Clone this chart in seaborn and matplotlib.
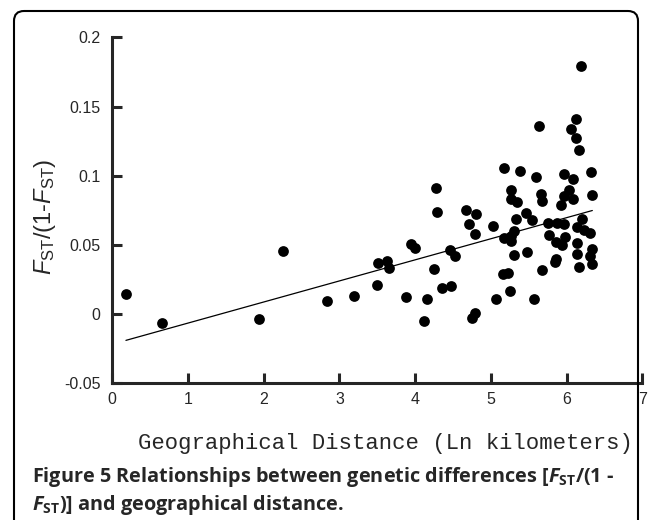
"""
Fst/(1-Fst) versus geographical distance, with linear trend
"""

import matplotlib
matplotlib.use('Agg')
import matplotlib.pyplot as plt
import seaborn as sns
import pandas as pd
from matplotlib.patches import FancyBboxPatch
from matplotlib.transforms import IdentityTransform
from matplotlib.ticker import FuncFormatter

# Pairwise population data
distance = [0.18, 0.66, 1.94, 2.25, 2.84, 3.19, 3.49, 3.51, 3.63, 3.65,
            3.88, 3.95, 4.00, 4.12, 4.15, 4.25, 4.28, 4.29, 4.36, 4.46,
            4.47, 4.52, 4.67, 4.71, 4.75, 4.79, 4.79, 4.81, 5.03, 5.07,
            5.16, 5.18, 5.18, 5.23, 5.25, 5.26, 5.26, 5.27, 5.27, 5.30,
            5.31, 5.33, 5.34, 5.39, 5.47, 5.48, 5.54, 5.57, 5.60, 5.64,
            5.66, 5.67, 5.67, 5.76, 5.77, 5.85, 5.86, 5.86, 5.87, 5.93,
            5.94, 5.97, 5.97, 5.97, 5.98, 6.03, 6.06, 6.08, 6.09, 6.12,
            6.12, 6.14, 6.14, 6.14, 6.16, 6.16, 6.19, 6.20, 6.23, 6.31,
            6.31, 6.32, 6.33, 6.34, 6.34]
fst_ratio = [0.0142, -0.0063, -0.0034, 0.0455, 0.0096, 0.0130, 0.0210, 0.0370, 0.0383, 0.0335,
             0.0125, 0.0510, 0.0477, -0.0046, 0.0108, 0.0323, 0.0913, 0.0742, 0.0190, 0.0462,
             0.0205, 0.0420, 0.0756, 0.0655, -0.0027, 0.0005, 0.0580, 0.0723, 0.0636, 0.0110,
             0.0290, 0.1057, 0.0547, 0.0300, 0.0168, 0.0830, 0.0564, 0.0900, 0.0527, 0.0600,
             0.0426, 0.0689, 0.0810, 0.1036, 0.0728, 0.0448, 0.0680, 0.0113, 0.0992, 0.1360,
             0.0865, 0.0816, 0.0318, 0.0660, 0.0570, 0.0378, 0.0397, 0.0522, 0.0660, 0.0790,
             0.0503, 0.1010, 0.0853, 0.0655, 0.0559, 0.0900, 0.1340, 0.0830, 0.0978, 0.1410,
             0.1270, 0.0630, 0.0515, 0.0434, 0.1190, 0.0342, 0.1794, 0.0690, 0.0610, 0.0588,
             0.0420, 0.1030, 0.0860, 0.0472, 0.0366]

# Trend line as published
trend_slope = 0.01524
trend_intercept = -0.0217

x_ticks = [0, 1, 2, 3, 4, 5, 6, 7]
y_ticks = [-0.05, 0, 0.05, 0.1, 0.15, 0.2]

df = pd.DataFrame({'Distance': distance, 'Fst': fst_ratio})
trend_x = [min(distance), max(distance)]
trend = pd.DataFrame({'Distance': trend_x,
                      'Fst': [trend_intercept + trend_slope * v for v in trend_x]})

sns.set_style('ticks')
plt.rcParams['font.family'] = ['Liberation Sans', 'DejaVu Sans']
plt.rcParams['axes.unicode_minus'] = False
plt.rcParams['mathtext.fontset'] = 'custom'
plt.rcParams['mathtext.rm'] = 'Liberation Sans'
plt.rcParams['mathtext.it'] = 'Liberation Sans:italic'
plt.rcParams['mathtext.bf'] = 'Open Sans:bold'
plt.rcParams['mathtext.bfit'] = 'Open Sans:italic:bold'

W, H = 651, 520
fig = plt.figure(figsize=(W / 100, H / 100), dpi=100)
ax = fig.add_axes([112.3 / W, 1 - 383.3 / H, 530 / W, (383.3 - 37.5) / H])

# Scatter + trend line
sns.scatterplot(data=df, x='Distance', y='Fst', color='black', s=60,
                linewidth=0, ax=ax)
sns.lineplot(data=trend, x='Distance', y='Fst', color='black', lw=0.9, ax=ax)

ax.set_xlim(0, 7)
ax.set_ylim(-0.05, 0.2)
ax.set_xticks(x_ticks)
ax.set_yticks(y_ticks)
ax.yaxis.set_major_formatter(FuncFormatter(lambda v, p: f'{v:g}'))
ax.set_xlabel('')
ax.set_ylabel('')
sns.despine(ax=ax)
for side in ['left', 'bottom']:
    ax.spines[side].set_linewidth(2.2)
ax.tick_params(direction='in', length=7, width=2.2, labelsize=11.5)
ax.tick_params(axis='y', pad=8.5)
ax.tick_params(axis='x', pad=6)

# Axis titles
fig.text(385 / W, 1 - 443 / H, 'Geographical Distance (Ln kilometers)',
         family='Liberation Mono', fontsize=16, ha='center', va='center')
fig.text(45 / W, 1 - 217 / H,
         r'$\mathit{F}_{\mathrm{ST}}$/(1-$\mathit{F}_{\mathrm{ST}}$)',
         fontsize=17, rotation=90, ha='center', va='center')

# Caption
fig.text(32 / W, 1 - 477 / H,
         r'Figure 5 Relationships between genetic differences [$\mathbfit{F}_{\mathbf{ST}}$/(1 -',
         family='Open Sans', fontweight='bold', fontsize=14.3, ha='left', va='center')
fig.text(32 / W, 1 - 505 / H,
         r'$\mathbfit{F}_{\mathbf{ST}}$)] and geographical distance.',
         family='Open Sans', fontweight='bold', fontsize=14.3, ha='left', va='center')

# Rounded frame around the figure
frame = FancyBboxPatch((14, -20), 624, H - 11 + 20,
                       boxstyle='round,pad=0,rounding_size=10',
                       transform=IdentityTransform(), fill=False,
                       edgecolor='black', lw=1.5)
fig.add_artist(frame)

plt.savefig('out.png', dpi=100)
